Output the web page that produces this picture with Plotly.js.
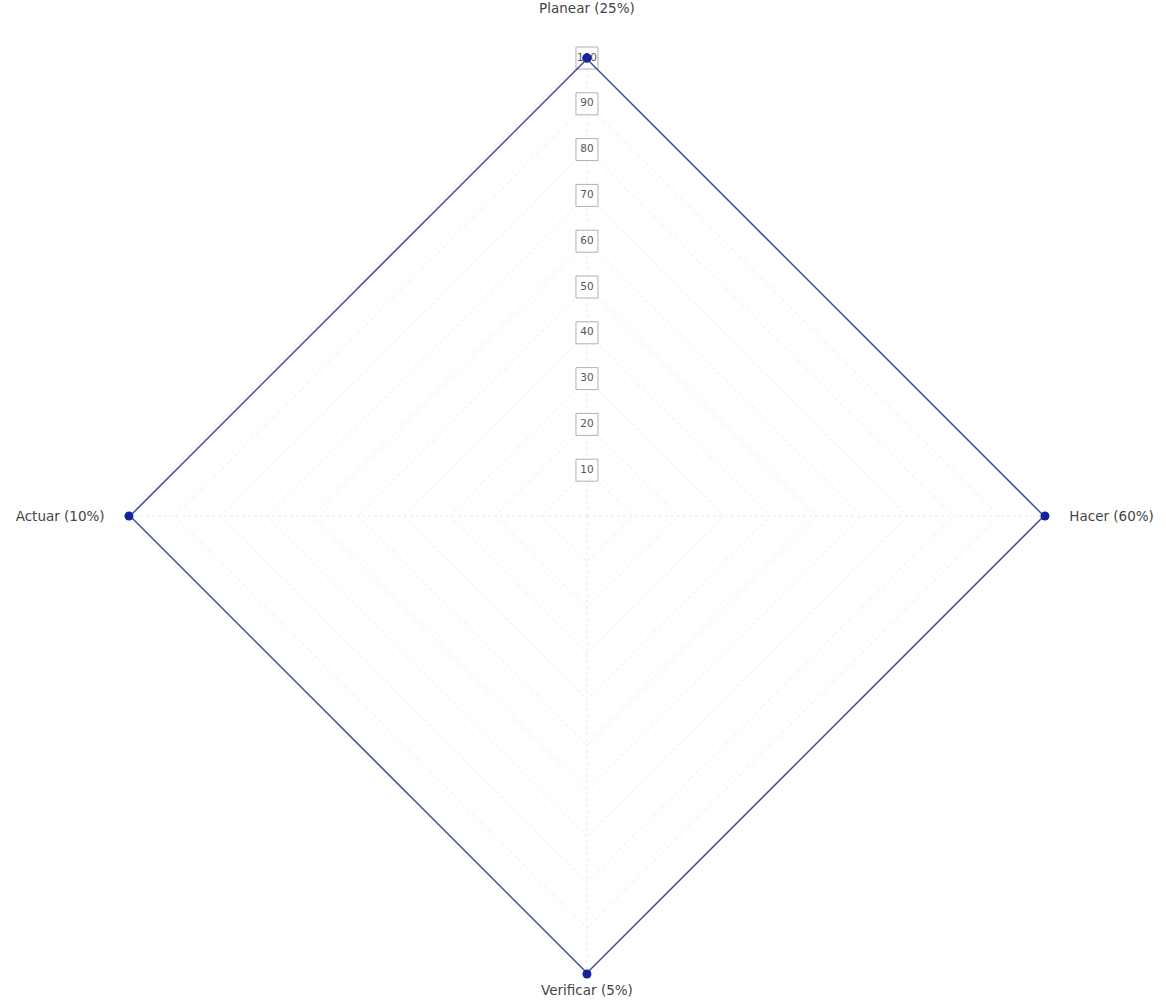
<!DOCTYPE html>
<html>
<head>
<meta charset="utf-8">
<script src="https://cdn.plot.ly/plotly-3.0.1.min.js"></script>
<style>html,body{margin:0;padding:0;background:#fff;}#chart{width:1166px;height:1000px;}</style>
</head>
<body>
<div id="chart"></div>
<script>
const categories = ["Planear (25%)", "Hacer (60%)", "Verificar (5%)", "Actuar (10%)"];
const values = [100, 100, 100, 100];
const tickValues = [10, 20, 30, 40, 50, 60, 70, 80, 90, 100];
const tickLabels = ["10", "20", "30", "40", "50", "60", "70", "80", "90", "100"];

// spacing used to push each category label away from the chart edge
const NB = "\u00a0";
const labelText = [
  categories[0] + "<br> <br> ",
  NB.repeat(4) + categories[1],
  categories[2],
  categories[3] + NB.repeat(4)
];

const closedTheta = categories.concat([categories[0]]);
const closedR = values.concat([values[0]]);

const FONT = "DejaVu Sans, Verdana, sans-serif";

const traces = [
  {
    type: "scatterpolar",
    r: tickValues,
    theta: tickValues.map(() => categories[0]),
    mode: "markers+text",
    text: tickLabels,
    textposition: "middle center",
    textfont: {family: FONT, size: 10.5, color: "#555"},
    marker: {symbol: "square", size: 22, color: "#fff", line: {color: "#b0b0b0", width: 1}},
    hoverinfo: "skip",
    showlegend: false
  },
  {
    type: "scatterpolar",
    r: closedR,
    theta: closedTheta,
    mode: "lines+markers",
    line: {color: "#3f4ca0", width: 3},
    marker: {color: "#13239a", size: 9, symbol: "circle"},
    showlegend: false
  }
];

const layout = {
  width: 1166,
  height: 1000,
  margin: {l: 0, r: 0, t: 0, b: 0},
  paper_bgcolor: "#fff",
  plot_bgcolor: "#fff",
  showlegend: false,
  font: {family: FONT, size: 13.5, color: "#444"},
  polar: {
    domain: {x: [0.1106, 0.8962], y: [0.026, 0.942]},
    gridshape: "linear",
    bgcolor: "#fff",
    radialaxis: {
      range: [0, 100],
      tickvals: tickValues,
      showticklabels: false,
      ticks: "",
      showline: false,
      gridcolor: "#ebebeb",
      griddash: "dot",
      gridwidth: 1,
      angle: 90
    },
    angularaxis: {
      rotation: 90,
      direction: "clockwise",
      showline: false,
      tickmode: "array",
      tickvals: categories,
      ticktext: labelText,
      ticks: "outside",
      ticklen: 4,
      tickcolor: "rgba(0,0,0,0)",
      tickfont: {family: FONT, size: 13.5, color: "#444"},
      gridcolor: "#ebebeb",
      griddash: "dot"
    }
  }
};

Plotly.newPlot("chart", traces, layout, {displayModeBar: false, staticPlot: true});
</script>
</body>
</html>
